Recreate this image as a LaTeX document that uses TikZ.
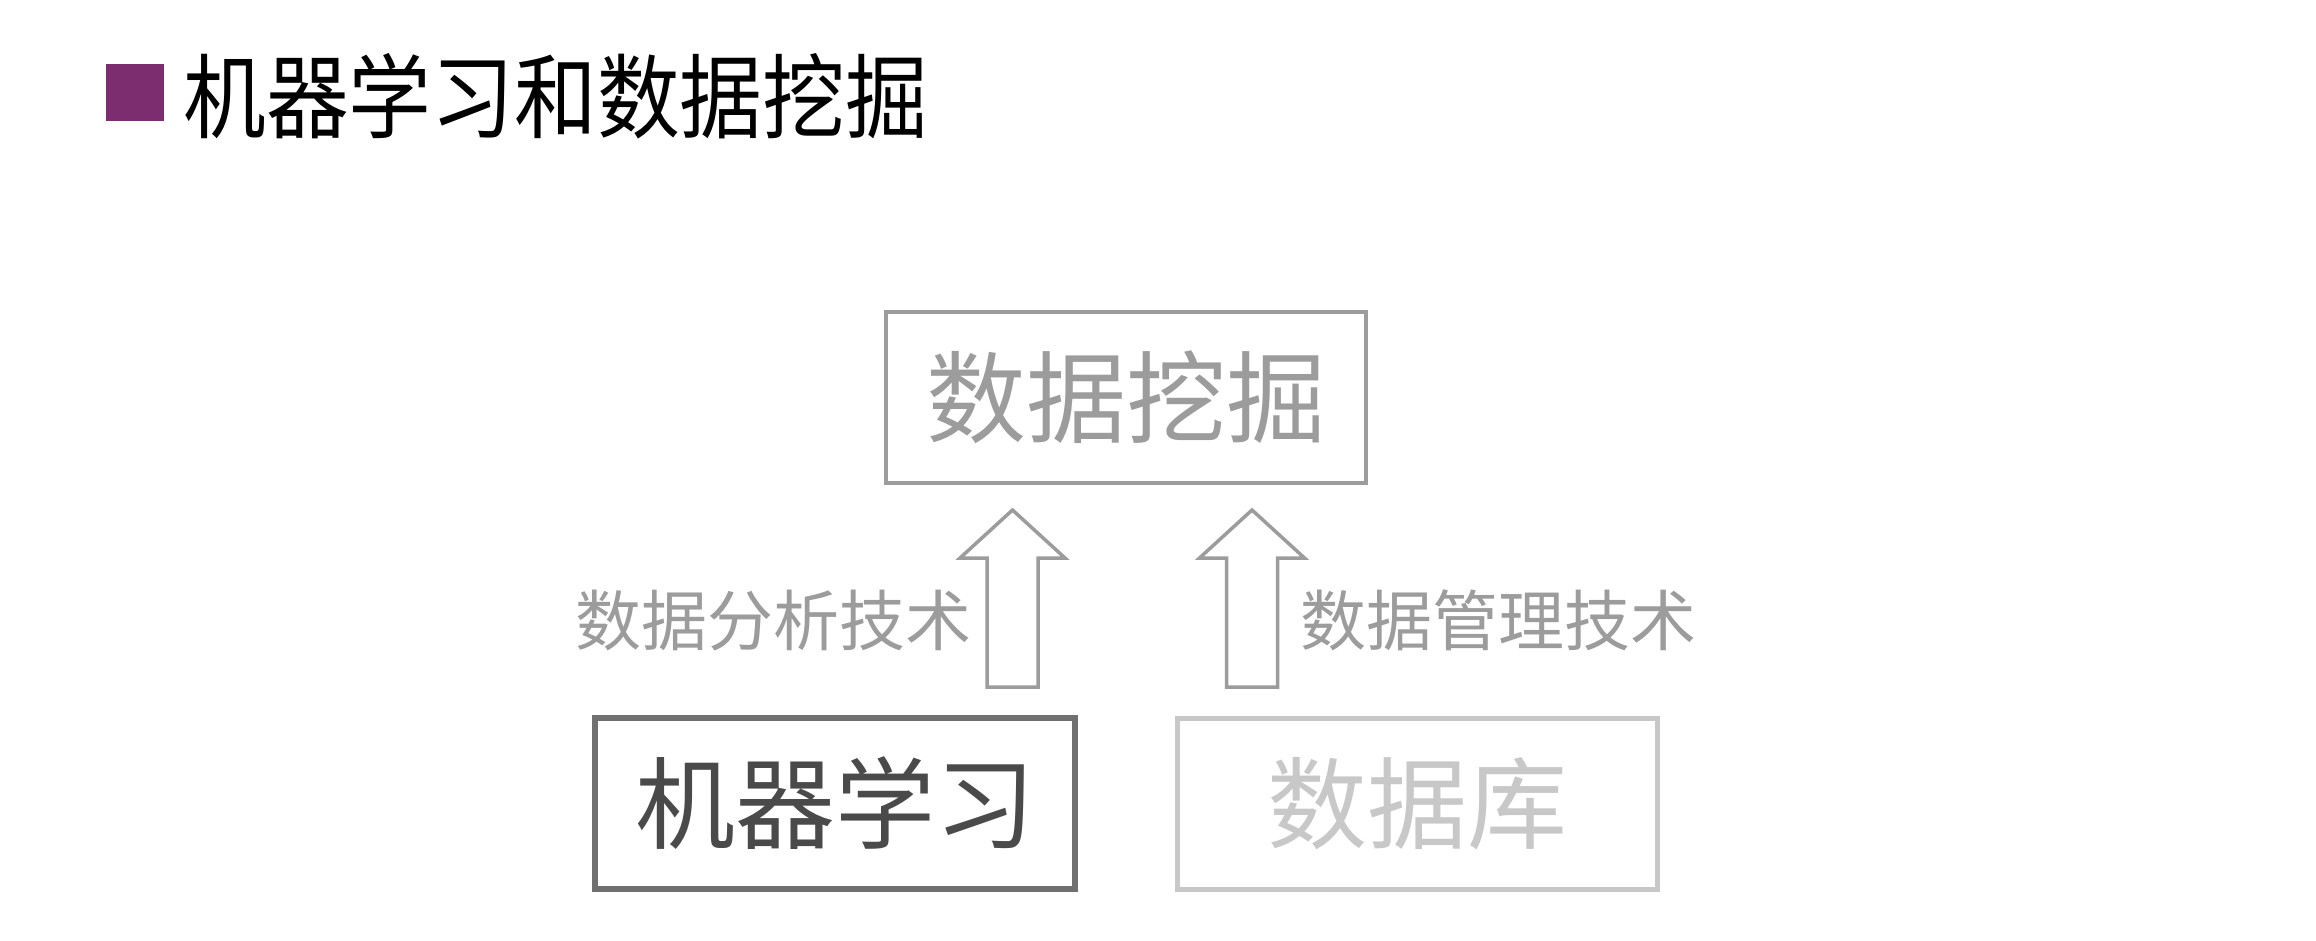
\documentclass[tikz,border=0pt]{standalone}
\usepackage{fontspec}
\newfontfamily\cjk{Noto Sans CJK SC}
\newfontfamily\cjknarrow[FakeStretch=0.9]{Noto Sans CJK SC}
\definecolor{titlepurple}{HTML}{7B2D6F}
\definecolor{midgray}{HTML}{9C9C9C}
\definecolor{darkgray}{HTML}{707070}
\definecolor{darktext}{HTML}{4A4A4A}
\definecolor{lightgray}{HTML}{C8C8C8}
\newcommand\blockarr[1]{\draw[blockarrow] (#1) ++(-25.5,0) -- ++(0,129) -- ++(-27,0) -- ++(52.5,48) -- ++(52.5,-48) -- ++(-27,0) -- ++(0,-129) -- cycle;}
\begin{document}
\begin{tikzpicture}[x=1pt,y=1pt,
  boxnode/.style={minimum width=480, minimum height=171, inner sep=0, font=\cjk\fontsize{100}{100}\selectfont},
  lbl/.style={inner sep=0, text=midgray, font=\cjk\fontsize{66}{66}\selectfont},
  blockarrow/.style={draw=midgray, line width=3.5, fill=white, line join=miter}]
\path[use as bounding box, fill=white] (0,0) rectangle (2316,-940);
\node[fill=titlepurple, minimum width=58, minimum height=57, inner sep=0] (sq) at (135,-92) {};
\node[anchor=west, inner sep=0, font=\cjknarrow\fontsize{92}{92}\selectfont] (title) at (183,-96) {机器学习和数据挖掘};
\node[boxnode, draw=midgray, line width=4.5, text=midgray] (dm) at (1126,-397.5) {数据挖掘};
\node[boxnode, draw=darkgray, line width=6, text=darktext] (ml) at (835,-803.5) {机器学习};
\node[boxnode, draw=lightgray, line width=5, text=lightgray] (db) at (1417,-803.5) {数据库};
\coordinate (a1) at (1012.5,-687);
\coordinate (a2) at (1252,-687);
\blockarr{a1}
\blockarr{a2}
\node[lbl, anchor=east] (l1) at (972,-620) {数据分析技术};
\node[lbl, anchor=west] (l2) at (1300,-620) {数据管理技术};
\end{tikzpicture}
\end{document}
